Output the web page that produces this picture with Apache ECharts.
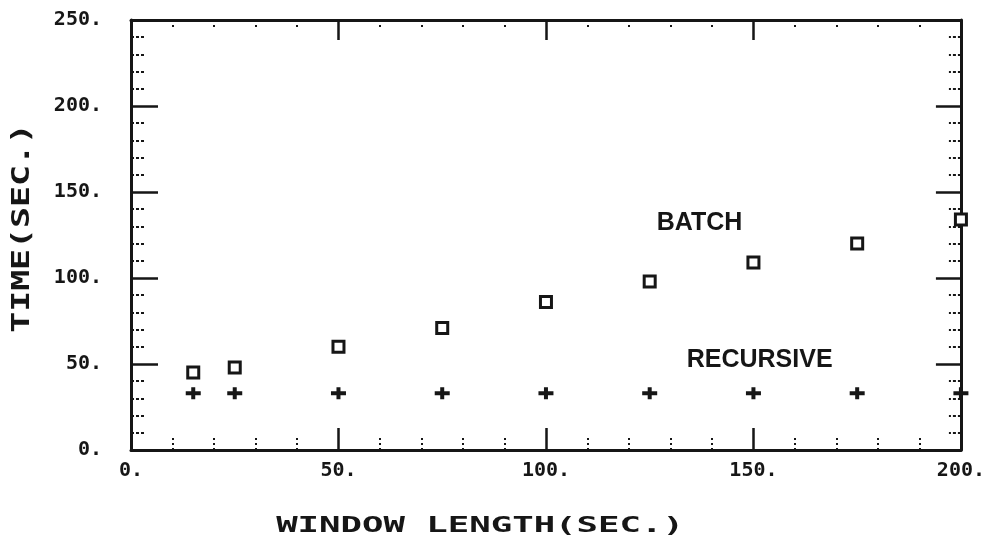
<!DOCTYPE html>
<html>
<head>
<meta charset="utf-8">
<script src="https://cdn.jsdelivr.net/npm/echarts@6/dist/echarts.min.js"></script>
<style>
  html, body { margin: 0; padding: 0; background: #fff; }
  #chart { width: 988px; height: 541px; }
</style>
</head>
<body>
<div id="chart"></div>
<script>
// Window length (sec.) for each run
const windowLength = [15, 25, 50, 75, 100, 125, 150, 175, 200];
// Computation time (sec.) for the batch method
const batchTime = [45, 48, 60, 71, 86, 98, 109, 120, 134];
// Computation time (sec.) for the recursive method
const recursiveTime = [33, 33, 33, 33, 33, 33, 33, 33, 33];
// Axis ranges and tick spacing
const xTicks = [0, 50, 100, 150, 200];
const yTicks = [0, 50, 100, 150, 200, 250];
// Curve labels, placed in data coordinates
const curveLabels = [
  { name: 'BATCH', x: 137, y: 132 },
  { name: 'RECURSIVE', x: 151.5, y: 52 }
];

const ink = '#161616';
const plotFont = '"DejaVu Sans Mono", "Liberation Mono", monospace';

const chart = echarts.init(document.getElementById('chart'), null, { renderer: 'canvas' });

const tickLabel = {
  formatter: v => v + '.',
  fontFamily: plotFont,
  fontWeight: 'bold',
  fontSize: 20,
  color: ink
};

function makeX(position, majorLen, minorLen, showLabel) {
  return {
    type: 'value',
    position: position,
    min: xTicks[0],
    max: xTicks[xTicks.length - 1],
    interval: xTicks[1] - xTicks[0],
    axisLine: { show: true, onZero: false, lineStyle: { color: ink, width: 3 } },
    axisTick: { show: true, inside: true, length: majorLen, lineStyle: { color: ink, width: 2.5 } },
    minorTick: { show: true, splitNumber: 5, length: minorLen, lineStyle: { color: ink, width: 2, type: [2, 3] } },
    splitLine: { show: false },
    axisLabel: Object.assign({ show: showLabel, margin: 11 }, tickLabel)
  };
}

function makeY(position, majorLen, minorLen, showLabel) {
  return {
    type: 'value',
    position: position,
    min: yTicks[0],
    max: yTicks[yTicks.length - 1],
    interval: yTicks[1] - yTicks[0],
    axisLine: { show: true, onZero: false, lineStyle: { color: ink, width: 3 } },
    axisTick: { show: true, inside: true, length: majorLen, lineStyle: { color: ink, width: 2.5 } },
    minorTick: { show: true, splitNumber: 5, length: minorLen, lineStyle: { color: ink, width: 2, type: [3, 2] } },
    splitLine: { show: false },
    axisLabel: Object.assign({ show: showLabel, margin: 29 }, tickLabel)
  };
}

const option = {
  backgroundColor: '#fff',
  animation: false,
  grid: { left: 131, right: 22, top: 20, bottom: 91, containLabel: false },
  xAxis: [
    makeX('bottom', 22, 12, true),
    makeX('top', 20, 8, false)
  ],
  yAxis: [
    makeY('left', 27, 13, true),
    makeY('right', 25, 12, false)
  ],
  series: [
    {
      name: 'BATCH',
      type: 'scatter',
      xAxisIndex: 0,
      yAxisIndex: 0,
      symbol: 'rect',
      symbolSize: 11,
      itemStyle: { color: '#fff', borderColor: ink, borderWidth: 3, opacity: 1 },
      data: windowLength.map((x, i) => [x, batchTime[i]]),
      z: 5
    },
    {
      name: 'RECURSIVE',
      type: 'scatter',
      xAxisIndex: 0,
      yAxisIndex: 0,
      symbol: 'path://M0,4H15V8H0Z M5.5,0H9.5V12H5.5Z',
      symbolSize: [15, 12],
      itemStyle: { color: ink, opacity: 1 },
      data: windowLength.map((x, i) => [x, recursiveTime[i]]),
      z: 5
    },
    {
      name: 'labels',
      type: 'scatter',
      xAxisIndex: 0,
      yAxisIndex: 0,
      symbolSize: 0,
      silent: true,
      itemStyle: { opacity: 1 },
      data: curveLabels.map(d => ({ name: d.name, value: [d.x, d.y] })),
      label: {
        show: true,
        position: 'inside',
        formatter: p => p.name,
        fontFamily: '"Liberation Sans", Arial, sans-serif',
        fontWeight: 'bold',
        fontSize: 25,
        color: ink,
        opacity: 1
      }
    }
  ],
  graphic: [
    {
      type: 'text',
      x: 480,
      y: 526,
      scaleX: 1.62,
      style: {
        text: 'WINDOW LENGTH(SEC.)',
        fontFamily: plotFont,
        fontWeight: 'bold',
        fontSize: 22,
        fill: ink,
        align: 'center',
        verticalAlign: 'middle'
      }
    },
    {
      type: 'text',
      x: 23,
      y: 228,
      rotation: Math.PI / 2,
      scaleX: 1.45,
      style: {
        text: 'TIME(SEC.)',
        fontFamily: plotFont,
        fontWeight: 'bold',
        fontSize: 24,
        fill: ink,
        align: 'center',
        verticalAlign: 'middle'
      }
    }
  ]
};

chart.setOption(option);
</script>
</body>
</html>
